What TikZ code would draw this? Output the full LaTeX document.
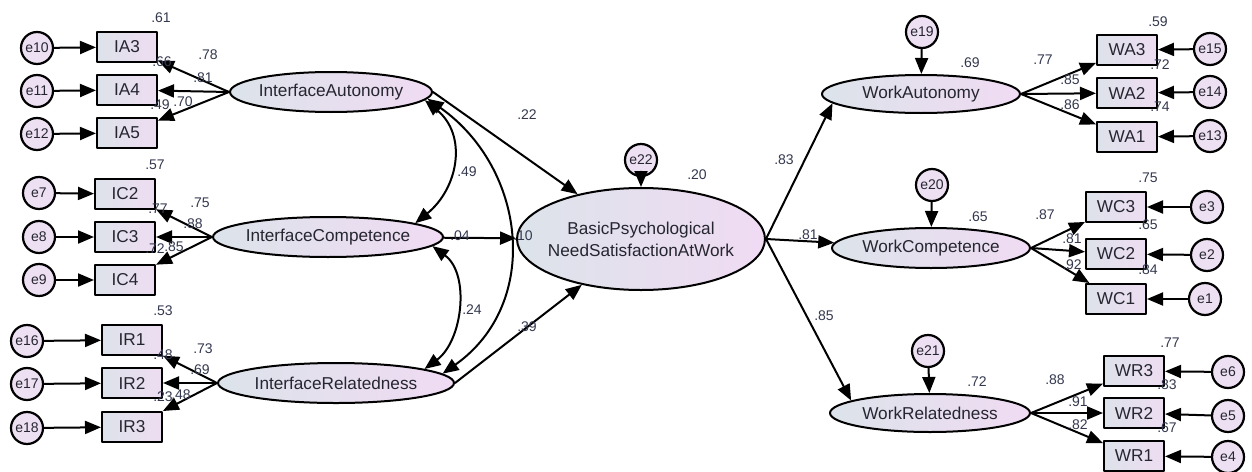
\documentclass[tikz,border=0pt]{standalone}
\usepackage{fontspec}
\setmainfont{Liberation Sans}
\usetikzlibrary{arrows.meta}
\usetikzlibrary{shapes.geometric}
\definecolor{boxl}{RGB}{221,226,234}
\definecolor{boxr}{RGB}{238,221,242}
\definecolor{elll}{RGB}{220,227,234}
\definecolor{ellr}{RGB}{240,219,243}
\definecolor{errc}{RGB}{237,224,243}
\definecolor{txtc}{RGB}{38,38,48}
\definecolor{numc}{RGB}{52,56,78}

\begin{document}
\begin{tikzpicture}[line cap=round,line join=round,>={Triangle[length=8pt,width=6.5pt]},x=0.5pt,y=-0.5pt,
obs/.style={draw,line width=1pt,left color=boxl,right color=boxr,minimum width=30pt,minimum height=15pt,inner sep=0pt,text=txtc,font=\fontsize{8.6}{10}\selectfont},
lat/.style={draw,line width=1pt,ellipse,left color=elll,right color=ellr,inner sep=0pt,inner xsep=-3pt,minimum height=20pt,text=txtc,font=\fontsize{8.6}{11}\selectfont},
err/.style={draw,line width=1.1pt,circle,fill=errc,minimum size=16pt,inner sep=0pt,text=txtc,font=\fontsize{7}{8}\selectfont},
est/.style={inner sep=0pt,text=numc,font=\fontsize{7}{8}\selectfont},
reg/.style={line width=1pt,->},
cov/.style={line width=1pt,<->}]
\useasboundingbox (0,0) rectangle (1252,471);
% interface autonomy
\node[err] (e10) at (37,48) {e10};
\node[err] (e11) at (37,91) {e11};
\node[err] (e12) at (37,134) {e12};
\node[obs] (ia3) at (127,47) {IA3};
\node[obs] (ia4) at (127,90) {IA4};
\node[obs] (ia5) at (127,133) {IA5};
\node[lat,minimum width=101pt] (ia) at (331,92) {InterfaceAutonomy};
% interface competence
\node[err] (e7) at (39,193) {e7};
\node[err] (e8) at (39,237) {e8};
\node[err] (e9) at (39,280) {e9};
\node[obs] (ic2) at (125,194) {IC2};
\node[obs] (ic3) at (125,237) {IC3};
\node[obs] (ic4) at (125,280) {IC4};
\node[lat,minimum width=115pt] (ic) at (328,237) {InterfaceCompetence};
% interface relatedness
\node[err] (e16) at (27,341) {e16};
\node[err] (e17) at (27,384) {e17};
\node[err] (e18) at (27,428) {e18};
\node[obs] (ir1) at (132,340) {IR1};
\node[obs] (ir2) at (132,383) {IR2};
\node[obs] (ir3) at (132,427) {IR3};
\node[lat,minimum width=118pt] (ir) at (336,383) {InterfaceRelatedness};
% need satisfaction
\node[lat,minimum width=124pt,minimum height=51pt,align=center,inner xsep=-6pt] (bp) at (641,239) {BasicPsychological\\NeedSatisfactionAtWork};
\node[err] (e22) at (641,160) {e22};
% work outcomes
\node[lat,minimum width=99pt,minimum height=19pt] (wa) at (921,94) {WorkAutonomy};
\node[lat,minimum width=99pt] (wc) at (931,248) {WorkCompetence};
\node[lat,minimum width=100pt,minimum height=19pt] (wr) at (930,413) {WorkRelatedness};
\node[err] (e19) at (922,32) {e19};
\node[err] (e20) at (932,185) {e20};
\node[err] (e21) at (928,351) {e21};
\node[obs] (wa3) at (1127,50) {WA3};
\node[obs] (wa2) at (1127,93) {WA2};
\node[obs] (wa1) at (1127,137) {WA1};
\node[obs] (wc3) at (1116,207) {WC3};
\node[obs] (wc2) at (1116,254) {WC2};
\node[obs] (wc1) at (1116,299) {WC1};
\node[obs] (wr3) at (1134,371) {WR3};
\node[obs] (wr2) at (1134,413) {WR2};
\node[obs] (wr1) at (1134,456) {WR1};
\node[err] (e15) at (1210,49) {e15};
\node[err] (e14) at (1210,92) {e14};
\node[err] (e13) at (1210,136) {e13};
\node[err] (e3) at (1207,207) {e3};
\node[err] (e2) at (1207,255) {e2};
\node[err] (e1) at (1205,299) {e1};
\node[err] (e6) at (1228,372) {e6};
\node[err] (e5) at (1228,416) {e5};
\node[err] (e4) at (1228,457) {e4};
% errors
\draw[reg] (e10) -- (ia3);
\draw[reg] (e11) -- (ia4);
\draw[reg] (e12) -- (ia5);
\draw[reg] (e7) -- (ic2);
\draw[reg] (e8) -- (ic3);
\draw[reg] (e9) -- (ic4);
\draw[reg] (e16) -- (ir1);
\draw[reg] (e17) -- (ir2);
\draw[reg] (e18) -- (ir3);
\draw[reg] (e22) -- (bp);
\draw[reg] (e19) -- (wa);
\draw[reg] (e20) -- (wc);
\draw[reg] (e21) -- (wr);
\draw[reg] (e15) -- (wa3);
\draw[reg] (e14) -- (wa2);
\draw[reg] (e13) -- (wa1);
\draw[reg] (e3) -- (wc3);
\draw[reg] (e2) -- (wc2);
\draw[reg] (e1) -- (wc1);
\draw[reg] (e6) -- (wr3);
\draw[reg] (e5) -- (wr2);
\draw[reg] (e4) -- (wr1);
% loadings
\draw[reg] (ia.west) -- (ia3);
\draw[reg] (ia.west) -- (ia4);
\draw[reg] (ia.west) -- (ia5);
\draw[reg] (ic.west) -- (ic2);
\draw[reg] (ic.west) -- (ic3);
\draw[reg] (ic.west) -- (ic4);
\draw[reg] (ir.west) -- (ir1);
\draw[reg] (ir.west) -- (ir2);
\draw[reg] (ir.west) -- (ir3);
\draw[reg] (wa.east) -- (wa3);
\draw[reg] (wa.east) -- (wa2);
\draw[reg] (wa.east) -- (wa1);
\draw[reg] (wc.east) -- (wc3);
\draw[reg] (wc.east) -- (wc2);
\draw[reg] (wc.east) -- (wc1);
\draw[reg] (wr.east) -- (wr3);
\draw[reg] (wr.east) -- (wr2);
\draw[reg] (wr.east) -- (wr1);
% structural paths
\draw[reg] (ia.east) -- (bp);
\draw[reg] (ic) -- (bp);
\draw[reg] (ir.east) -- (bp);
\draw[reg] (bp.east) -- (wa.186);
\draw[reg] (bp.east) -- (wc);
\draw[reg] (bp.east) -- (wr.171);
% covariances
\draw[cov] (ia.-5) .. controls +(43,35) and +(43,-35) .. (ic.9);
\draw[cov] (ic.-5) .. controls +(38,28) and +(38,-28) .. (ir.9);
\draw[cov] (ia.-4) .. controls +(99,70) and +(99,-70) .. (ir.5);
% estimates
\node[est] (ria3) at (161,18) {.61};
\node[est] (ria4) at (162,62) {.66};
\node[est] (ria5) at (160,105) {.49};
\node[est] (lia3) at (208,55) {.78};
\node[est] (lia4) at (203,78) {.81};
\node[est] (lia5) at (183,102) {.70};
\node[est] (ric2) at (155,165) {.57};
\node[est] (ric3) at (158,209) {.77};
\node[est] (ric4) at (155,249) {.72};
\node[est] (lic2) at (200,203) {.75};
\node[est] (lic3) at (193,224) {.88};
\node[est] (lic4) at (174,247) {.85};
\node[est] (rir1) at (163,311) {.53};
\node[est] (rir2) at (163,355) {.48};
\node[est] (rir3) at (163,397) {.23};
\node[est] (lir1) at (203,349) {.73};
\node[est] (lir2) at (200,370) {.69};
\node[est] (lir3) at (181,395) {.48};
\node[est] (cac) at (467,172) {.49};
\node[est] (ccr) at (472,310) {.24};
\node[est] (car) at (523,236) {.10};
\node[est] (bia) at (527,115) {.22};
\node[est] (bic) at (460,236) {.04};
\node[est] (bir) at (527,327) {.39};
\node[est] (rbp) at (697,175) {.20};
\node[est] (bwa) at (784,160) {.83};
\node[est] (bwc) at (808,235) {.81};
\node[est] (bwr) at (824,316) {.85};
\node[est] (rwa) at (970,63) {.69};
\node[est] (rwc) at (978,217) {.65};
\node[est] (rwr) at (977,382) {.72};
\node[est] (rwa3) at (1158,22) {.59};
\node[est] (rwa2) at (1160,65) {.72};
\node[est] (rwa1) at (1160,107) {.74};
\node[est] (lwa3) at (1043,60) {.77};
\node[est] (lwa2) at (1070,80) {.85};
\node[est] (lwa1) at (1070,105) {.86};
\node[est] (rwc3) at (1148,178) {.75};
\node[est] (rwc2) at (1148,225) {.65};
\node[est] (rwc1) at (1148,270) {.84};
\node[est] (lwc3) at (1045,215) {.87};
\node[est] (lwc2) at (1072,239) {.81};
\node[est] (lwc1) at (1072,265) {.92};
\node[est] (rwr3) at (1170,343) {.77};
\node[est] (rwr2) at (1167,385) {.83};
\node[est] (rwr1) at (1167,428) {.67};
\node[est] (lwr3) at (1055,380) {.88};
\node[est] (lwr2) at (1078,402) {.91};
\node[est] (lwr1) at (1078,425) {.82};
\end{tikzpicture}
\end{document}
